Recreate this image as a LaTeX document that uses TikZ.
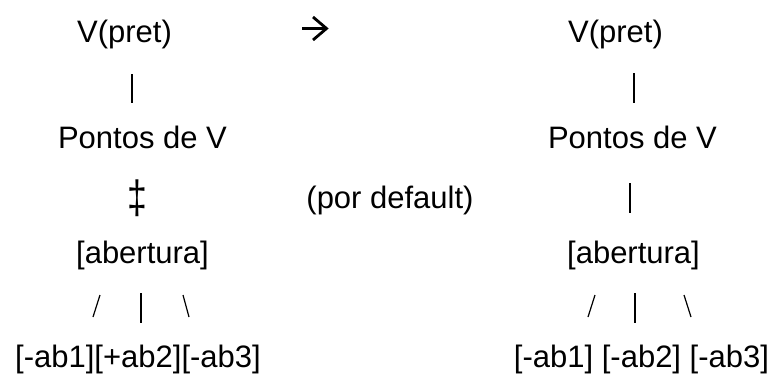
\documentclass[tikz,border=0pt]{standalone}
\usepackage{fontspec}
\setmainfont{Liberation Sans}
\begin{document}
\begin{tikzpicture}[x=1pt,y=-1pt,
  lbl/.style={anchor=base, inner sep=0pt, font=\fontsize{31}{37}\selectfont},
  glyph/.style={anchor=center, inner sep=0pt, font=\fontsize{31}{37}\selectfont},
  stroke/.style={line width=1.2pt, line cap=butt},
  ]
\useasboundingbox[fill=white] (0,0) rectangle (778,380);

% ---- left tree ----
\node[lbl] (vL)  at (124.5,42)  {V(pret)};
\node[lbl] (pL)  at (142.5,148) {Pontos de V};
\node[glyph] (ddL) at (137,198) {\scalebox{1.15}[1.5]{‡}};
\node[lbl] (aL)  at (142.5,263) {[abertura]};
\node[lbl] (fL)  at (138,367)   {[-ab1][+ab2][-ab3]};

\coordinate (bL1a) at (132,74);  \coordinate (bL1b) at (132,103);
\coordinate (sL1a) at (100,295); \coordinate (sL1b) at (93,317);
\coordinate (sL2a) at (141,293); \coordinate (sL2b) at (141,323);
\coordinate (sL3a) at (183,295); \coordinate (sL3b) at (189,317);
\draw[stroke] (bL1a) -- (bL1b);
\draw[stroke] (sL1a) -- (sL1b);
\draw[stroke] (sL2a) -- (sL2b);
\draw[stroke] (sL3a) -- (sL3b);

% ---- middle ----
\coordinate (arA) at (302,28.5);
\coordinate (arB) at (324,28.5);
\coordinate (arT) at (313,17);
\coordinate (arP) at (326.5,28.5);
\coordinate (arD) at (313,40);
\draw[line width=3.8pt] (arA) -- (arB);
\draw[line width=2.8pt, line join=miter] (arT) -- (arP) -- (arD);
\node[lbl] (dflt) at (390,208) {(por default)};

% ---- right tree ----
\node[lbl] (vR)  at (615.5,42)  {V(pret)};
\node[lbl] (pR)  at (632.5,148) {Pontos de V};
\node[lbl] (aR)  at (633.5,263) {[abertura]};
\node[lbl] (fR)  at (641.5,367) {[-ab1] [-ab2] [-ab3]};

\coordinate (bR1a) at (634,73);  \coordinate (bR1b) at (634,103);
\coordinate (bR2a) at (630,183); \coordinate (bR2b) at (630,213);
\coordinate (sR1a) at (595,295); \coordinate (sR1b) at (588,317);
\coordinate (sR2a) at (635,293); \coordinate (sR2b) at (635,323);
\coordinate (sR3a) at (684,295); \coordinate (sR3b) at (691,317);
\draw[stroke] (bR1a) -- (bR1b);
\draw[stroke] (bR2a) -- (bR2b);
\draw[stroke] (sR1a) -- (sR1b);
\draw[stroke] (sR2a) -- (sR2b);
\draw[stroke] (sR3a) -- (sR3b);
\end{tikzpicture}
\end{document}
